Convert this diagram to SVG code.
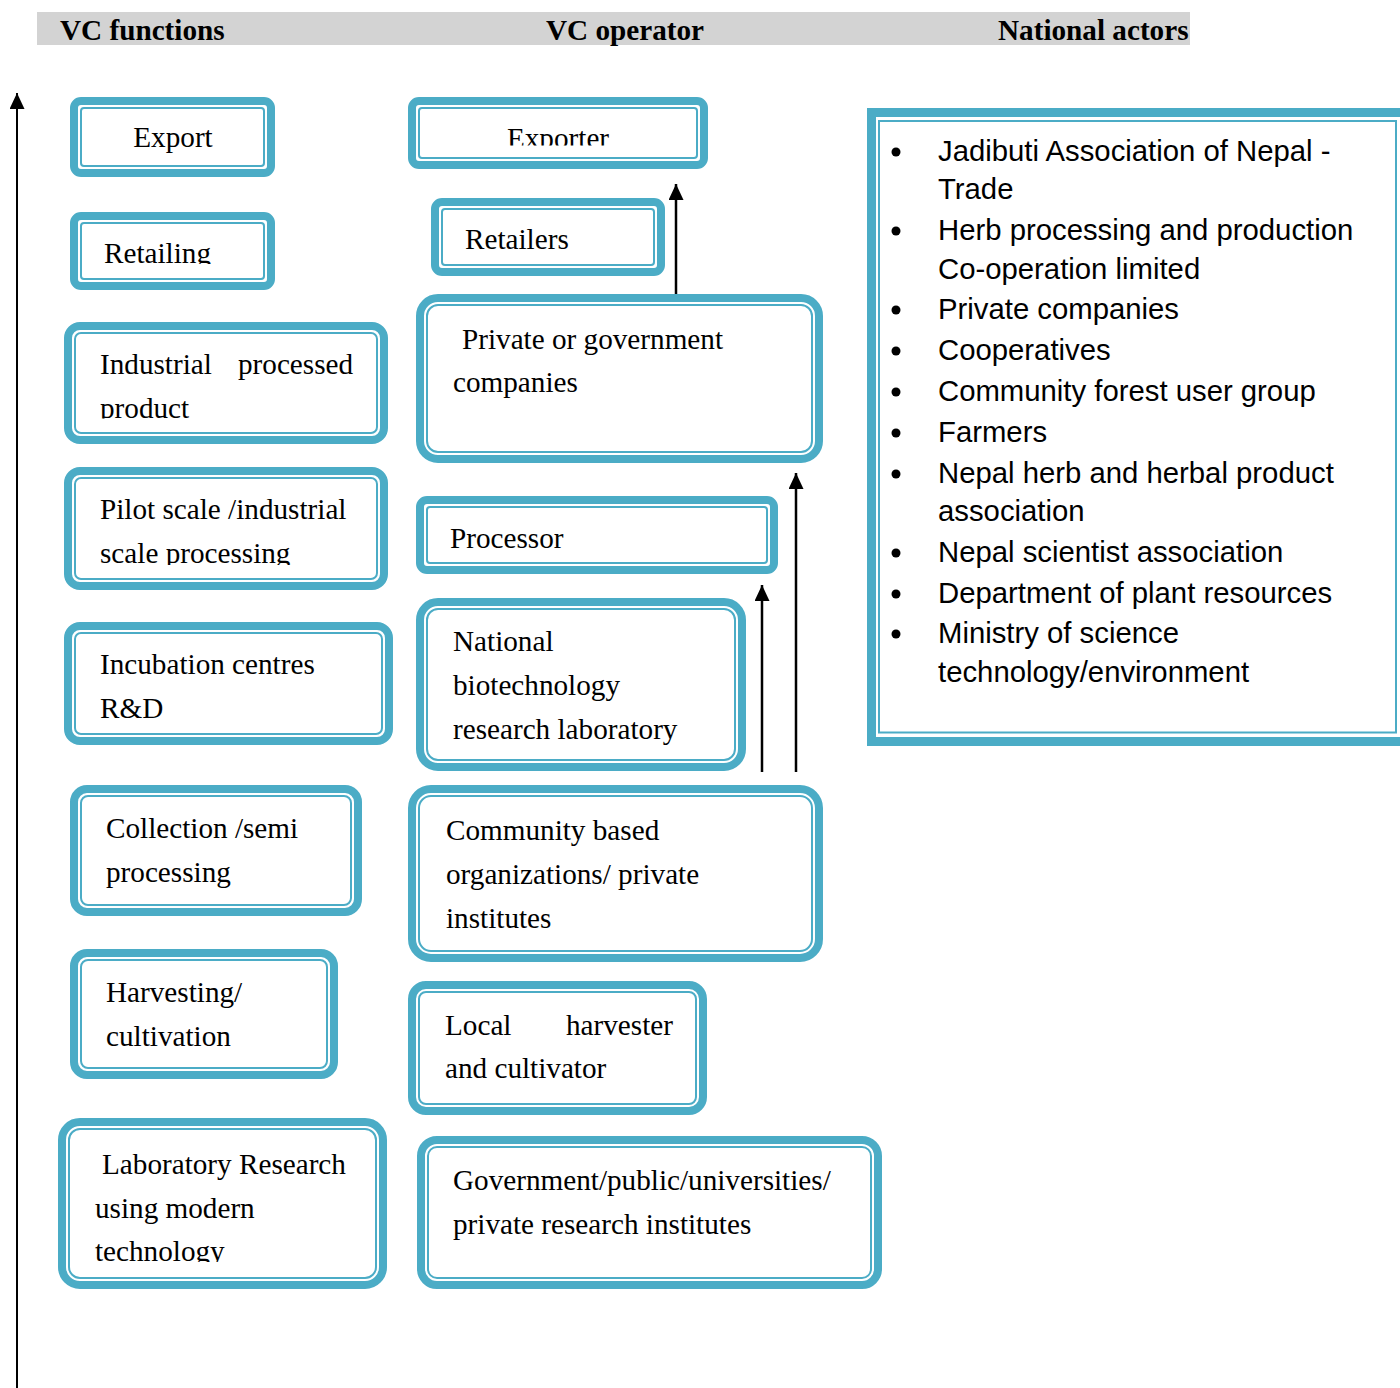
<svg xmlns="http://www.w3.org/2000/svg" width="1400" height="1388" viewBox="0 0 1400 1388">
<style>
.thick{fill:#fff;stroke:#4BACC6;stroke-width:8}
.thin{fill:none;stroke:#4BACC6;stroke-width:2}
.t{font-family:"Liberation Serif","Times New Roman",serif;font-size:29.2px;fill:#000}
.h{font-family:"Liberation Serif","Times New Roman",serif;font-size:29.2px;font-weight:bold;fill:#000}
.s{font-family:"Liberation Sans",Arial,sans-serif;font-size:29.3px;fill:#000}
.conn{stroke:#000;stroke-width:2.5;fill:none}
</style>
<defs>
<marker id="arr" viewBox="0 0 16 15" refX="16" refY="7.5" markerWidth="16" markerHeight="15" markerUnits="userSpaceOnUse" orient="auto">
<path d="M0,0 L16,7.5 L0,15 z" fill="#000"/>
</marker>
<clipPath id="cExporter"><rect x="400" y="90" width="320" height="55.5"/></clipPath>
<clipPath id="cRetailing"><rect x="60" y="200" width="230" height="64"/></clipPath>
<clipPath id="cIndustrial"><rect x="60" y="320" width="340" height="98.5"/></clipPath>
<clipPath id="cPilot"><rect x="60" y="465" width="340" height="100"/></clipPath>
<clipPath id="cLab"><rect x="50" y="1115" width="350" height="147"/></clipPath>
</defs>
<rect id="header" x="37" y="12" width="1153" height="33" fill="#D3D3D3"/>
<text class="h" x="60" y="39.5">VC functions</text>
<text class="h" x="546" y="39.5">VC operator</text>
<text class="h" x="998" y="39.5">National actors</text>

<g id="connectors">
<line class="conn" x1="17" y1="1388" x2="17" y2="93" marker-end="url(#arr)" style="stroke-width:2"/>
<line class="conn" x1="676" y1="300" x2="676" y2="184" marker-end="url(#arr)"/>
<line class="conn" x1="796" y1="772" x2="796" y2="473" marker-end="url(#arr)"/>
<line class="conn" x1="762" y1="772" x2="762" y2="585" marker-end="url(#arr)"/>
</g>

<g id="export"><rect class="thick" x="74" y="101" width="197" height="72" rx="7"/><rect class="thin" x="81" y="108" width="183" height="58" rx="3"/><text class="t" x="173" y="147" text-anchor="middle">Export</text></g>
<g id="retailing"><rect class="thick" x="74" y="216" width="197" height="70" rx="7"/><rect class="thin" x="81" y="223" width="183" height="56" rx="3"/><text class="t" x="104" y="263" clip-path="url(#cRetailing)">Retailing</text></g>
<g id="industrial"><rect class="thick" x="68" y="326" width="316" height="114" rx="12"/><rect class="thin" x="75" y="333" width="302" height="100" rx="6"/><g clip-path="url(#cIndustrial)"><text class="t" x="100" y="374">Industrial</text><text class="t" x="238" y="374">processed</text><text class="t" x="100" y="418">product</text></g></g>
<g id="pilot"><rect class="thick" x="68" y="471" width="316" height="115" rx="12"/><rect class="thin" x="75" y="478" width="302" height="101" rx="6"/><g clip-path="url(#cPilot)"><text class="t" x="100" y="519">Pilot scale /industrial</text><text class="t" x="100" y="563">scale processing</text></g></g>
<g id="incubation"><rect class="thick" x="68" y="626" width="321" height="115" rx="12"/><rect class="thin" x="75" y="633" width="307" height="101" rx="6"/><text class="t" x="100" y="674">Incubation centres</text><text class="t" x="100" y="718">R&amp;D</text></g>
<g id="collection"><rect class="thick" x="74" y="789" width="284" height="123" rx="13"/><rect class="thin" x="81" y="796" width="270" height="109" rx="7"/><text class="t" x="106" y="838">Collection /semi</text><text class="t" x="106" y="882">processing</text></g>
<g id="harvesting"><rect class="thick" x="74" y="953" width="260" height="122" rx="13"/><rect class="thin" x="81" y="960" width="246" height="108" rx="7"/><text class="t" x="106" y="1002">Harvesting/</text><text class="t" x="106" y="1046">cultivation</text></g>
<g id="laboratory"><rect class="thick" x="62" y="1122" width="321" height="163" rx="18"/><rect class="thin" x="69" y="1129" width="307" height="149" rx="11"/><g clip-path="url(#cLab)"><text class="t" x="102" y="1174">Laboratory Research</text><text class="t" x="95" y="1218">using modern</text><text class="t" x="95" y="1261">technology</text></g></g>

<g id="exporter"><rect class="thick" x="412" y="101" width="292" height="64" rx="7"/><rect class="thin" x="419" y="108" width="278" height="50" rx="3"/><text class="t" x="558" y="148" text-anchor="middle" clip-path="url(#cExporter)">Exporter</text></g>
<g id="retailers"><rect class="thick" x="435" y="202" width="226" height="70" rx="7"/><rect class="thin" x="442" y="209" width="212" height="56" rx="3"/><text class="t" x="465" y="249">Retailers</text></g>
<g id="private"><rect class="thick" x="420" y="298" width="399" height="161" rx="18"/><rect class="thin" x="427" y="305" width="385" height="147" rx="11"/><text class="t" x="462" y="349">Private or government</text><text class="t" x="453" y="392">companies</text></g>
<g id="processor"><rect class="thick" x="420" y="500" width="354" height="70" rx="7"/><rect class="thin" x="427" y="507" width="340" height="56" rx="3"/><text class="t" x="450" y="548">Processor</text></g>
<g id="national"><rect class="thick" x="420" y="602" width="322" height="165" rx="18"/><rect class="thin" x="427" y="609" width="308" height="151" rx="11"/><text class="t" x="453" y="651">National</text><text class="t" x="453" y="695">biotechnology</text><text class="t" x="453" y="739">research laboratory</text></g>
<g id="community"><rect class="thick" x="412" y="789" width="407" height="169" rx="19"/><rect class="thin" x="419" y="796" width="393" height="155" rx="12"/><text class="t" x="446" y="840">Community based</text><text class="t" x="446" y="884">organizations/ private</text><text class="t" x="446" y="928">institutes</text></g>
<g id="local"><rect class="thick" x="412" y="985" width="291" height="126" rx="14"/><rect class="thin" x="419" y="992" width="277" height="112" rx="7"/><text class="t" x="445" y="1035">Local</text><text class="t" x="566" y="1035">harvester</text><text class="t" x="445" y="1078">and cultivator</text></g>
<g id="government"><rect class="thick" x="421" y="1140" width="457" height="145" rx="16"/><rect class="thin" x="428" y="1147" width="443" height="131" rx="9"/><text class="t" x="453" y="1190">Government/public/universities/</text><text class="t" x="453" y="1234">private research institutes</text></g>

<g id="national-actors">
<rect x="871.5" y="112.5" width="540" height="629" fill="#fff" stroke="#4BACC6" stroke-width="9"/>
<rect x="879" y="121" width="517" height="611.5" fill="none" stroke="#4BACC6" stroke-width="2"/>
<g fill="#000">
<circle cx="896" cy="152" r="4.5"/><circle cx="896" cy="231" r="4.5"/><circle cx="896" cy="310" r="4.5"/><circle cx="896" cy="351" r="4.5"/><circle cx="896" cy="392" r="4.5"/><circle cx="896" cy="433" r="4.5"/><circle cx="896" cy="474" r="4.5"/><circle cx="896" cy="553" r="4.5"/><circle cx="896" cy="594" r="4.5"/><circle cx="896" cy="634" r="4.5"/>
</g>
<text class="s" x="938" y="161">Jadibuti Association of Nepal -</text>
<text class="s" x="938" y="199">Trade</text>
<text class="s" x="938" y="240">Herb processing and production</text>
<text class="s" x="938" y="279">Co-operation limited</text>
<text class="s" x="938" y="319">Private companies</text>
<text class="s" x="938" y="360">Cooperatives</text>
<text class="s" x="938" y="401">Community forest user group</text>
<text class="s" x="938" y="442">Farmers</text>
<text class="s" x="938" y="483">Nepal herb and herbal product</text>
<text class="s" x="938" y="521">association</text>
<text class="s" x="938" y="562">Nepal scientist association</text>
<text class="s" x="938" y="603">Department of plant resources</text>
<text class="s" x="938" y="643">Ministry of science</text>
<text class="s" x="938" y="682">technology/environment</text>
</g>
</svg>
